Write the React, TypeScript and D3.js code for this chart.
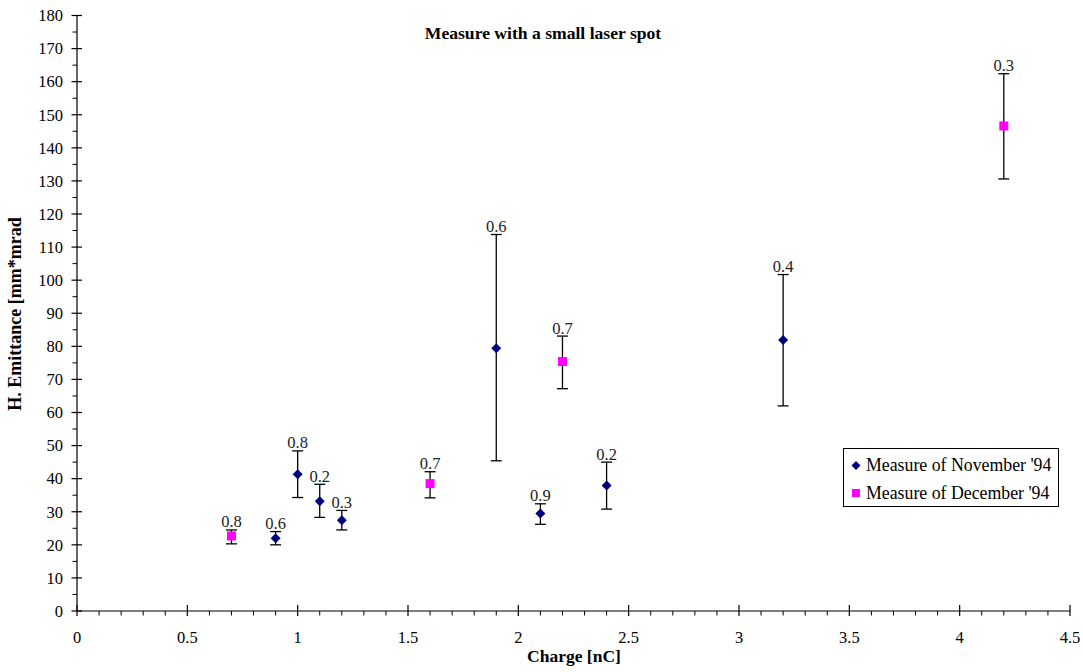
import React, { useRef, useEffect } from 'react';
import * as d3 from 'd3';

// November '94 measurements (diamonds)
const novCharge = [0.9, 1.0, 1.1, 1.2, 1.9, 2.1, 2.4, 3.2];
const novEmit = [22.0, 41.3, 33.2, 27.4, 79.4, 29.5, 37.9, 81.9];
const novHigh = [24.0, 48.4, 38.3, 30.4, 113.8, 32.4, 45.0, 101.7];
const novLow = [20.0, 34.3, 28.3, 24.5, 45.4, 26.2, 30.8, 62.0];
const novLabel = ['0.6', '0.8', '0.2', '0.3', '0.6', '0.9', '0.2', '0.4'];

// December '94 measurements (squares)
const decCharge = [0.7, 1.6, 2.2, 4.2];
const decEmit = [22.7, 38.5, 75.4, 146.6];
const decHigh = [24.5, 42.1, 83.1, 162.4];
const decLow = [20.3, 34.2, 67.2, 130.6];
const decLabel = ['0.8', '0.7', '0.7', '0.3'];

const xTicks = [0, 0.5, 1, 1.5, 2, 2.5, 3, 3.5, 4, 4.5];
const yTicks = [0, 10, 20, 30, 40, 50, 60, 70, 80, 90, 100, 110, 120, 130, 140, 150, 160, 170, 180];
const legendLabels = ["Measure of November '94", "Measure of December '94"];

const W = 1083;
const H = 672;
const FONT = 'Liberation Serif, serif';

type Pt = { x: number; y: number; hi: number; lo: number; label: string };

const App = () => {
  const ref = useRef<SVGSVGElement>(null);

  useEffect(() => {
    const svg = d3.select(ref.current);
    svg.selectAll('*').remove();

    const xScale = d3.scaleLinear().domain([0, 4.5]).range([77, 1070]);
    const yScale = d3.scaleLinear().domain([0, 180]).range([611, 15.5]);

    const nov: Pt[] = novCharge.map((c, i) => ({ x: c, y: novEmit[i], hi: novHigh[i], lo: novLow[i], label: novLabel[i] }));
    const dec: Pt[] = decCharge.map((c, i) => ({ x: c, y: decEmit[i], hi: decHigh[i], lo: decLow[i], label: decLabel[i] }));

    const g = svg.append('g').attr('font-family', FONT);

    // axes lines
    g.append('line')
      .attr('x1', xScale(0)).attr('x2', xScale(0))
      .attr('y1', yScale(0)).attr('y2', yScale(180))
      .attr('stroke', '#000').attr('stroke-width', 1.2);
    g.append('line')
      .attr('x1', xScale(0)).attr('x2', xScale(4.5))
      .attr('y1', yScale(0)).attr('y2', yScale(0))
      .attr('stroke', '#000').attr('stroke-width', 1.2);

    // y minor ticks
    const yMinor = d3.range(5, 180, 10);
    g.selectAll(null).data(yMinor).join('line')
      .attr('x1', xScale(0) - 4.5).attr('x2', xScale(0))
      .attr('y1', d => yScale(d)).attr('y2', d => yScale(d))
      .attr('stroke', '#000').attr('stroke-width', 1);
    // y major ticks
    g.selectAll(null).data(yTicks).join('line')
      .attr('x1', xScale(0) - 5.5).attr('x2', xScale(0) + 5)
      .attr('y1', d => yScale(d)).attr('y2', d => yScale(d))
      .attr('stroke', '#000').attr('stroke-width', 1.2);
    g.selectAll(null).data(yTicks).join('text')
      .attr('x', 63)
      .attr('y', d => yScale(d))
      .attr('dy', '0.35em')
      .attr('text-anchor', 'end')
      .attr('font-size', 16.5)
      .text(d => d);

    // x minor ticks
    const xMinor = d3.range(1, 45).filter(d => d % 5 !== 0).map(d => d / 10);
    g.selectAll(null).data(xMinor).join('line')
      .attr('x1', d => xScale(d)).attr('x2', d => xScale(d))
      .attr('y1', yScale(0)).attr('y2', yScale(0) + 4.5)
      .attr('stroke', '#000').attr('stroke-width', 1);
    g.selectAll(null).data(xTicks).join('line')
      .attr('x1', d => xScale(d)).attr('x2', d => xScale(d))
      .attr('y1', yScale(0) - 6).attr('y2', yScale(0) + 5)
      .attr('stroke', '#000').attr('stroke-width', 1.2);
    g.selectAll(null).data(xTicks).join('text')
      .attr('x', d => xScale(d))
      .attr('y', 643)
      .attr('text-anchor', 'middle')
      .attr('font-size', 16.5)
      .text(d => d);

    // titles
    g.append('text')
      .attr('x', 543).attr('y', 39)
      .attr('text-anchor', 'middle')
      .attr('font-size', 17.6).attr('font-weight', 'bold')
      .text('Measure with a small laser spot');
    g.append('text')
      .attr('x', 574).attr('y', 662)
      .attr('text-anchor', 'middle')
      .attr('font-size', 17.5).attr('font-weight', 'bold')
      .text('Charge [nC]');
    g.append('text')
      .attr('transform', 'translate(21, 314) rotate(-90)')
      .attr('text-anchor', 'middle')
      .attr('font-size', 18).attr('font-weight', 'bold')
      .text('H. Emittance [mm*mrad');

    // error bars + labels
    const drawErr = (pts: Pt[]) => {
      const eg = g.append('g');
      eg.selectAll(null).data(pts).join('line')
        .attr('x1', d => xScale(d.x)).attr('x2', d => xScale(d.x))
        .attr('y1', d => yScale(d.hi)).attr('y2', d => yScale(d.lo))
        .attr('stroke', '#000').attr('stroke-width', 1.3);
      eg.selectAll(null).data(pts.flatMap(d => [{ x: d.x, v: d.hi }, { x: d.x, v: d.lo }])).join('line')
        .attr('x1', d => xScale(d.x) - 5.5).attr('x2', d => xScale(d.x) + 5.5)
        .attr('y1', d => yScale(d.v)).attr('y2', d => yScale(d.v))
        .attr('stroke', '#000').attr('stroke-width', 1.3);
      eg.selectAll(null).data(pts).join('text')
        .attr('x', d => xScale(d.x))
        .attr('y', d => yScale(d.hi) - 2.5)
        .attr('text-anchor', 'middle')
        .attr('font-size', 16.5)
        .attr('fill', '#222')
        .text(d => d.label);
    };
    drawErr(nov);
    drawErr(dec);

    const diamond = (cx: number, cy: number, r: number) =>
      `M${cx},${cy - r}L${cx + r},${cy}L${cx},${cy + r}L${cx - r},${cy}Z`;

    g.selectAll(null).data(nov).join('path')
      .attr('d', d => diamond(xScale(d.x), yScale(d.y), 5))
      .attr('fill', '#000080');
    g.selectAll(null).data(dec).join('rect')
      .attr('x', d => xScale(d.x) - 4.5).attr('y', d => yScale(d.y) - 4.5)
      .attr('width', 9).attr('height', 9)
      .attr('fill', '#FF00FF');

    // legend
    const lg = g.append('g');
    lg.append('rect')
      .attr('x', 843.5).attr('y', 448.5).attr('width', 215).attr('height', 58)
      .attr('fill', '#fff').attr('stroke', '#000').attr('stroke-width', 1);
    lg.append('path').attr('d', diamond(856, 465.5, 4.5)).attr('fill', '#000080');
    lg.append('rect').attr('x', 852).attr('y', 489).attr('width', 8).attr('height', 8).attr('fill', '#FF00FF');
    lg.selectAll(null).data(legendLabels).join('text')
      .attr('x', 866)
      .attr('y', (d, i) => 470.5 + i * 28)
      .attr('font-size', 17.8)
      .text(d => d);
  }, []);

  return (
    <svg ref={ref} width={W} height={H} style={{ position: 'absolute', left: 0, top: 0, background: '#fff' }} />
  );
};

export default App;
